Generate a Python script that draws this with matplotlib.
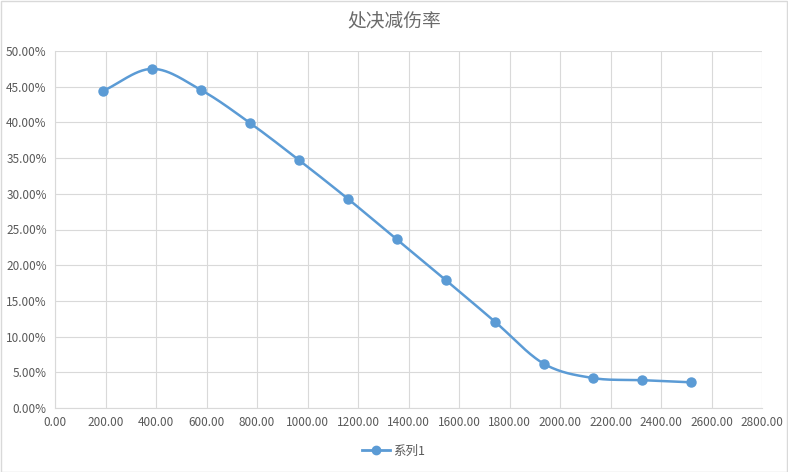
import matplotlib
matplotlib.use('Agg')
import matplotlib.pyplot as plt
import numpy as np
from matplotlib.ticker import FuncFormatter, MultipleLocator
from matplotlib.patches import Rectangle

plt.rcParams['font.family'] = ['Noto Sans CJK SC', 'DejaVu Sans']

title = '处决减伤率'
series_name = '系列1'
x = [190, 385, 580, 773, 967, 1160, 1354, 1548, 1742, 1936, 2130, 2324, 2518]
y = [44.4, 47.5, 44.5, 39.9, 34.7, 29.3, 23.6, 17.9, 12.1, 6.2, 4.2, 3.9, 3.6]

blue = '#5b9bd5'
grid_c = '#d9d9d9'
text_c = '#595959'


def smooth(px, py, n=30):
    # catmull-rom style curve through the points, like Excel's smoothed line
    px = np.asarray(px, float)
    py = np.asarray(py, float)
    P = np.column_stack([px, py])
    P = np.vstack([P[0] - (P[1] - P[0]), P, P[-1] + (P[-1] - P[-2])])
    out = []
    t = np.linspace(0, 1, n)[:, None]
    for i in range(1, len(P) - 2):
        p0, p1, p2, p3 = P[i - 1], P[i], P[i + 1], P[i + 2]
        c1 = p1 + (p2 - p0) / 6
        c2 = p2 - (p3 - p1) / 6
        seg = ((1 - t) ** 3) * p1 + 3 * ((1 - t) ** 2) * t * c1 + 3 * (1 - t) * t ** 2 * c2 + t ** 3 * p2
        out.append(seg)
    out = np.vstack(out)
    return out[:, 0], out[:, 1]


fig = plt.figure(figsize=(7.88, 4.72), dpi=100)
ax = fig.add_axes([55 / 788, 64 / 472, 707 / 788, 357 / 472])

sx, sy = smooth(x, y)
ax.plot(sx, sy, color=blue, lw=1.8, solid_capstyle='round', zorder=3)
ax.plot(x, y, 'o', color=blue, ms=6.5, zorder=4)

ax.set_xlim(0, 2800)
ax.set_ylim(0, 50)
ax.xaxis.set_major_locator(MultipleLocator(200))
ax.yaxis.set_major_locator(MultipleLocator(5))
ax.xaxis.set_major_formatter(FuncFormatter(lambda v, p: '%.2f' % v))
ax.yaxis.set_major_formatter(FuncFormatter(lambda v, p: '%.2f%%' % v))
ax.grid(True, color=grid_c, lw=0.8)
ax.set_axisbelow(True)
for s in ['top', 'right']:
    ax.spines[s].set_visible(False)
for s in ['left', 'bottom']:
    ax.spines[s].set_color(grid_c)
    ax.spines[s].set_linewidth(0.8)
ax.tick_params(length=0, labelsize=8.5, colors=text_c, pad=6)

fig.text(0.5, 1 - 22 / 472, title, ha='center', va='center', fontsize=13.5,
         color='#6a6a6a', fontweight='light')

ax.legend([plt.Line2D([0], [0], color=blue, lw=2, marker='o', ms=6)], [series_name],
          loc='center', bbox_to_anchor=(0.5, 21 / 472), bbox_transform=fig.transFigure,
          frameon=False, fontsize=9, labelcolor=text_c, handlelength=2.2, handletextpad=0.3)

fig.patches.append(Rectangle((0.5 / 788, 0.5 / 472), 1 - 1.5 / 788, 1 - 1.5 / 472,
                             transform=fig.transFigure, fill=False, edgecolor=grid_c, lw=1))

fig.savefig('out.png', dpi=100)
